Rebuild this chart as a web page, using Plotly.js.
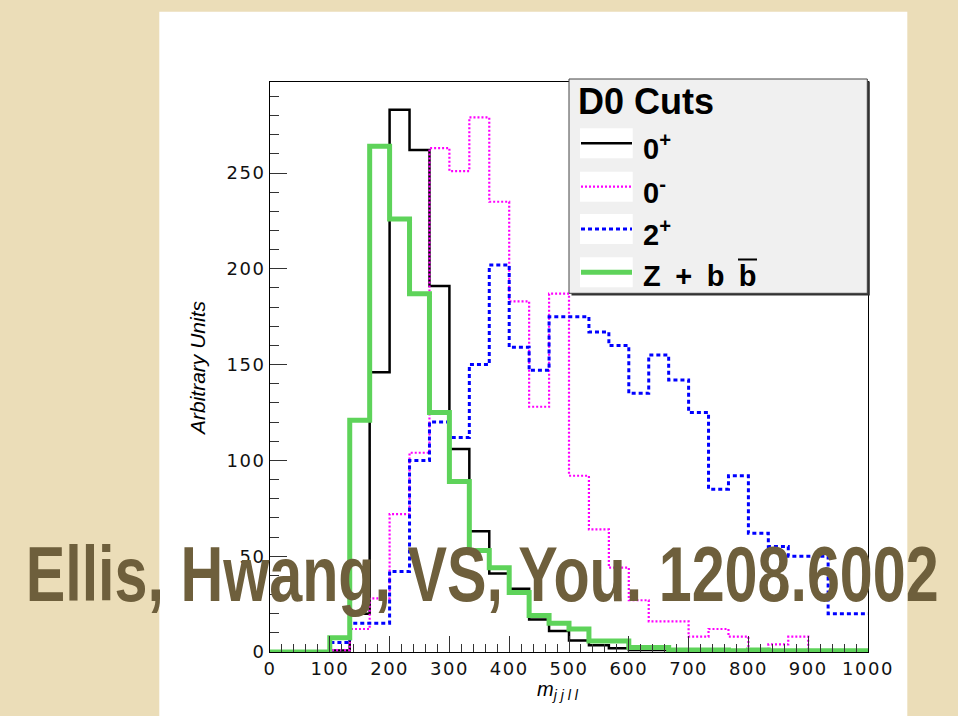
<!DOCTYPE html>
<html>
<head>
<meta charset="utf-8">
<script src="https://cdn.plot.ly/plotly-3.0.1.min.js"></script>
<style>
html,body{margin:0;padding:0;background:#ebddb8;}
#chart{width:958px;height:716px;}
.xtick text,.ytick text{letter-spacing:1.5px;}
</style>
</head>
<body>
<div id="chart"></div>
<script>
// ---- data (30 bins, 0..1000) ----
const xMin = 0, xMax = 1000, nBins = 30;
const series0plus  = [0,0,0,0.8,20,146,283,262,191,106,63,41,33,17,11,6,3.5,2,1,1,0.5,0.5,0.3,0.3,0.2,0.2,0.1,0.1,0.1,0.1];
const series0minus = [0,0,0,1,12,28,72,104,263,251,279,235,183,128,187,92,64,44,27,16,16,8,12,8,0.3,4,8,0,0,0];
const series2plus  = [0,0,0,5,15,15,42,100,120,112,150,202,159,147,175,175,167,160,135,155,142,125,85,92,62,55,50,50,20,20];
const seriesZbb    = [0,0,0,7.5,121,264,226,187,125,89,53,44,31,19,15,12,5.7,5.7,2.3,2.3,1,1,1,0.6,1,0.6,0.6,0.6,0.6,0.6];
const seriesNames  = ['0<sup>+</sup>','0<sup>-</sup>','2<sup>+</sup>','Z\u2002+\u2002b\u2002b'];
const xTickVals = [0,100,200,300,400,500,600,700,800,900,1000];
const yTickVals = [0,50,100,150,200,250];

// ---- geometry helpers (pixel -> paper) ----
const W = 958, H = 716;
const mL = 270, mR = 90, mT = 82, mB = 64;
const pw = W - mL - mR, ph = H - mT - mB;
const X = px => (px - mL) / pw;
const Y = py => (H - mB - py) / ph;

const edges = [];
for (let i = 0; i <= nBins; i++) edges.push(xMin + (xMax - xMin) * i / nBins);
function stepY(v){ return v.concat([v[v.length-1]]); }

const styles = [
  {color:'#000000', width:2.5, dash:'solid'},
  {color:'#ff00ff', width:2.2, dash:'2px,2px'},
  {color:'#0000ff', width:3, dash:'4px,3px'},
  {color:'#5ed35a', width:5, dash:'solid'}
];
const allSeries = [series0plus, series0minus, series2plus, seriesZbb];
const traces = allSeries.map((s,i)=>({
  type:'scatter', mode:'lines', x:edges, y:stepY(s),
  line:{shape:'hv', color:styles[i].color, width:styles[i].width, dash:styles[i].dash},
  hoverinfo:'skip', showlegend:false
}));

// ---- overlay watermark text ----
const overlayText = 'Ellis, Hwang, VS, You. 1208.6002';
const ovSize = 78, ovLeft = 25, ovWidth = 913, ovBaseline = 601;

// ---- legend (manual, ROOT style) ----
const legRows = [143.3, 186.7, 229, 272.3];
const shapes = [
  {type:'rect', xref:'paper', yref:'paper', x0:X(159.3), x1:X(907.3), y0:Y(716), y1:Y(11.7), fillcolor:'#ffffff', line:{width:0}, layer:'below'},
  {type:'rect', xref:'paper', yref:'paper', x0:X(571.5), x1:X(869.8), y0:Y(295.5), y1:Y(81.5), fillcolor:'#333333', line:{width:0}, layer:'above'},
  {type:'rect', xref:'paper', yref:'paper', x0:X(569), x1:X(867.3), y0:Y(293.3), y1:Y(79), fillcolor:'#f0f0f0', line:{width:1, color:'#444'}, layer:'above'}
];
legRows.forEach((yc,i)=>{
  shapes.push({type:'rect', xref:'paper', yref:'paper', x0:X(580), x1:X(632.7), y0:Y(yc+15), y1:Y(yc-15), fillcolor:'#ffffff', line:{width:0}, layer:'above'});
  shapes.push({type:'line', xref:'paper', yref:'paper', x0:X(581), x1:X(632), y0:Y(yc), y1:Y(yc), line:{color:styles[i].color, width:styles[i].width, dash:styles[i].dash}, layer:'above'});
});
// bar over the last b
shapes.push({type:'line', xref:'paper', yref:'paper', x0:X(738), x1:X(757), y0:Y(259.5), y1:Y(259.5), line:{color:'#000', width:2}, layer:'above'});

const annotations = [
  {xref:'paper', yref:'paper', x:X(576), y:Y(101.5), xanchor:'left', yanchor:'middle', showarrow:false,
   text:'<b>D0 Cuts</b>', font:{family:'Liberation Sans, Arial, sans-serif', size:36, color:'#000'}},
  {xref:'paper', yref:'paper', x:X(197), y:Y(368), xanchor:'center', yanchor:'middle', showarrow:false, textangle:-90,
   text:'<i>Arbitrary Units</i>', font:{family:'Liberation Sans, Arial, sans-serif', size:21, color:'#000'}},
  {xref:'paper', yref:'paper', x:X(558), y:Y(690), xanchor:'center', yanchor:'middle', showarrow:false,
   text:'<i>m<sub>j j l l</sub></i>', font:{family:'Liberation Sans, Arial, sans-serif', size:20, color:'#000'}},
  {xref:'paper', yref:'paper', x:X(ovLeft + ovWidth/2), y:Y(ovBaseline - 0.3465*ovSize), xanchor:'center', yanchor:'middle', showarrow:false,
   text:overlayText, name:'watermark', font:{family:'Liberation Sans, Arial, sans-serif', size:ovSize, weight:'bold', color:'#6e5f3c'}}
];
legRows.forEach((yc,i)=>{
  annotations.push({xref:'paper', yref:'paper', x:X(641), y:Y(yc+4), xanchor:'left', yanchor:'middle', showarrow:false,
    text:'<b>'+seriesNames[i]+'</b>', font:{family:'Liberation Sans, Arial, sans-serif', size:29, color:'#000'}});
});

const axisFont = {family:'DejaVu Sans, sans-serif', size:18, color:'#111'};
const layout = {
  width:W, height:H,
  margin:{l:mL, r:mR, t:mT, b:mB, pad:0},
  paper_bgcolor:'#ebddb8', plot_bgcolor:'#ffffff',
  showlegend:false, hovermode:false,
  xaxis:{range:[xMin,xMax], tickvals:xTickVals, ticktext:xTickVals.map(String),
    ticks:'inside', ticklen:16, tickwidth:1, tickcolor:'#333',
    minor:{dtick:20, ticks:'inside', ticklen:8, tickcolor:'#333', tickwidth:1, showgrid:false},
    showline:true, linecolor:'#000', linewidth:1, mirror:true, showgrid:false, zeroline:false,
    tickfont:axisFont, fixedrange:true},
  yaxis:{range:[0,297.5], tickvals:yTickVals, ticktext:yTickVals.map(String),
    ticks:'inside', ticklen:17, tickwidth:1, tickcolor:'#333',
    minor:{dtick:10, ticks:'inside', ticklen:9, tickcolor:'#333', tickwidth:1, showgrid:false},
    showline:true, linecolor:'#000', linewidth:1, mirror:true, showgrid:false, zeroline:false,
    tickfont:axisFont, fixedrange:true},
  shapes:shapes, annotations:annotations
};
Plotly.newPlot('chart', traces, layout, {staticPlot:true, displayModeBar:false}).then(gd=>{
  // squeeze the condensed watermark to its width
  gd.querySelectorAll('text.annotation-text').forEach(t=>{
    if (t.textContent === overlayText) {
      t.setAttribute('textLength', String(ovWidth));
      t.setAttribute('lengthAdjust', 'spacingAndGlyphs');
    }
  });
});
</script>
</body>
</html>
